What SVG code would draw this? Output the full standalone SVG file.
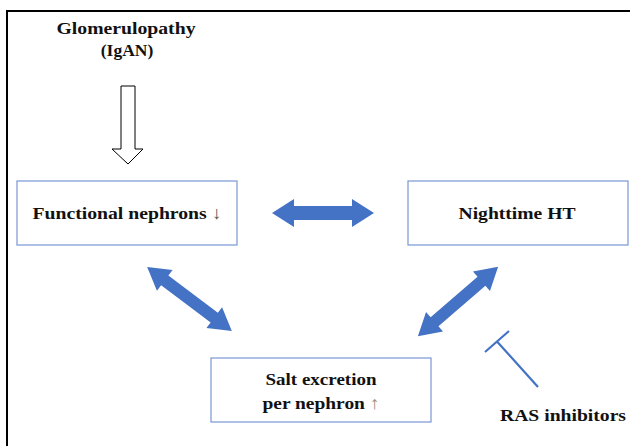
<svg xmlns="http://www.w3.org/2000/svg" width="630" height="446" viewBox="0 0 630 446">
<style>
.box{fill:#fff;stroke:#7A97D6;stroke-width:1.2}
.t{font-family:"Liberation Serif","Times New Roman",serif;font-weight:bold;font-size:17.5px;fill:#111;text-anchor:middle}
.blue{fill:#4472C4}
.inh{stroke:#4472C4;stroke-width:2.2;fill:none}
</style>
<defs>
<polygon id="dbl" points="-53,0 -31,-13 -31,-6 31,-6 31,-13 53,0 31,13 31,6 -31,6 -31,13"/>
</defs>
<rect width="630" height="446" fill="#fff"/>
<path d="M7,446 L7,11 L632,11" fill="none" stroke="#000" stroke-width="2"/>
<g id="glomerulopathy">
<text class="t" x="126" y="34" textLength="139" lengthAdjust="spacingAndGlyphs">Glomerulopathy</text>
<text class="t" x="127" y="56">(IgAN)</text>
</g>
<g id="functional-nephrons">
<rect class="box" x="17" y="181" width="220" height="64"/>
<text class="t" x="127" y="219" textLength="189" lengthAdjust="spacingAndGlyphs">Functional nephrons <tspan fill="#555">↓</tspan></text>
</g>
<g id="nighttime-ht">
<rect class="box" x="408" y="181" width="220" height="64"/>
<text class="t" x="517" y="219" textLength="117" lengthAdjust="spacingAndGlyphs">Nighttime HT</text>
</g>
<g id="salt-excretion">
<rect class="box" x="211" y="358" width="220" height="64"/>
<text class="t" x="321" y="385" textLength="111" lengthAdjust="spacingAndGlyphs">Salt excretion</text>
<text class="t" x="321" y="409" textLength="117" lengthAdjust="spacingAndGlyphs">per nephron <tspan fill="#9A8C7A">↑</tspan></text>
</g>
<g id="ras-inhibitors">
<text class="t" x="563" y="421" textLength="126" lengthAdjust="spacingAndGlyphs">RAS inhibitors</text>
</g>
<g id="connectors">
<polygon points="121,86 135,86 135,149 143,149 128,164 112,149 121,149" fill="#fff" stroke="#000" stroke-width="1"/>
<polygon class="blue" points="272,213 294,199 294,206 352,206 352,199 374,213 352,227 352,220 294,220 294,227"/>
<use href="#dbl" class="blue" transform="translate(189.5,299) rotate(37)"/>
<use href="#dbl" class="blue" transform="translate(458,301.5) rotate(-40.8)"/>
<path class="inh" d="M485,352 L509,331 M497,341.5 L538,387"/>
</g>
</svg>
